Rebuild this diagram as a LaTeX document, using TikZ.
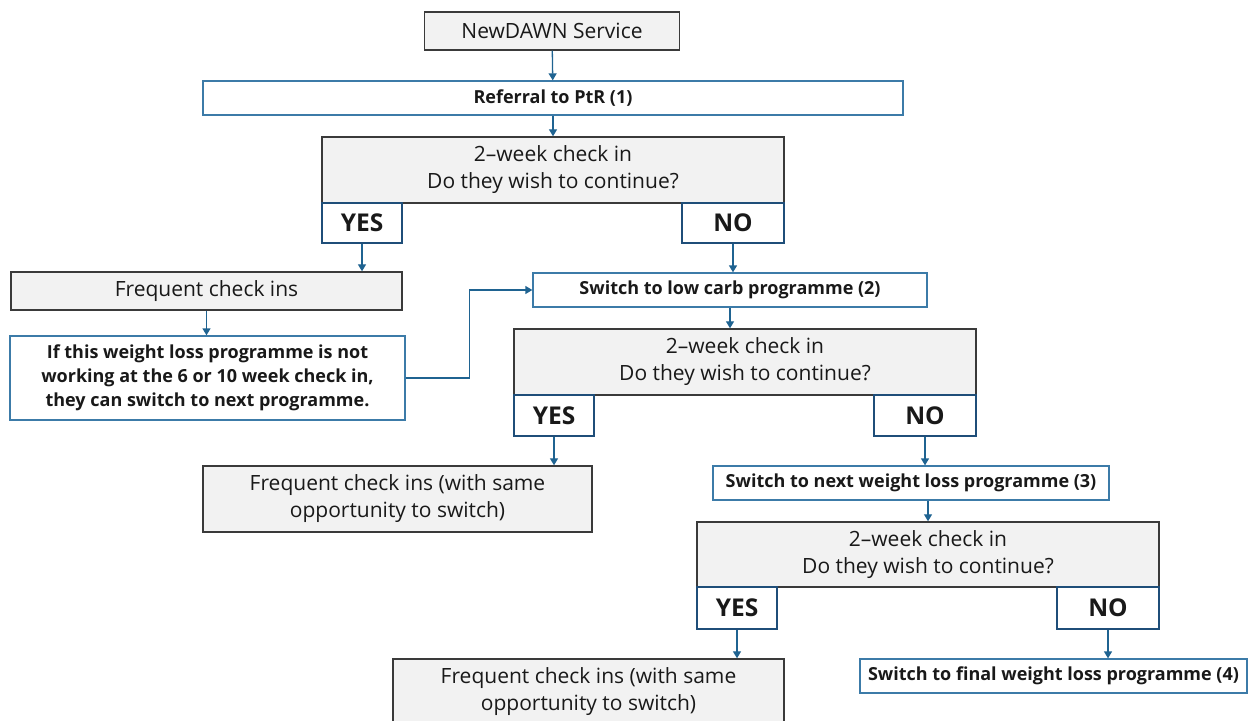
\documentclass[tikz,border=0pt]{standalone}
\usepackage{fontspec}
\setmainfont{Open Sans}
\usetikzlibrary{arrows.meta, positioning}
\definecolor{graufuell}{HTML}{F2F2F2}
\definecolor{graurand}{HTML}{3A3A3A}
\definecolor{blaurand}{HTML}{3C7BA8}
\definecolor{dunkelblau}{HTML}{1F4E79}
\definecolor{pfeil}{HTML}{1F6391}

\begin{document}
\begin{tikzpicture}[
        x=1pt, y=-1pt,
        every node/.style={inner sep=0pt, align=center, text=black!90},
        graubox/.style={draw=graurand, fill=graufuell, line width=1.4pt,
          font=\fontsize{21}{27}\selectfont},
        blaubox/.style={draw=blaurand, fill=white, line width=1.3pt,
          font=\fontsize{18}{24}\selectfont\bfseries},
        antwort/.style={draw=dunkelblau, fill=white, line width=1.6pt,
          minimum width=80pt, minimum height=40pt,
          font=\fontsize{24.5}{28}\selectfont\bfseries},
        nein/.style={antwort, minimum width=102pt},
        verb/.style={draw=pfeil, line width=1.3pt,
          -{Triangle[length=7pt, width=8pt]}},
      ]
      \useasboundingbox (0,0) rectangle (1257,720);
      \clip (0,0) rectangle (1257,720);

      % Start
      \node[graubox, minimum width=255pt, minimum height=38pt] (dienst) at (552,31) {NewDAWN Service};
      \node[blaubox, minimum width=700pt, minimum height=34pt] (ueberw) at (553,98) {Referral to PtR (1)};

      % erste Abfrage
      \node[graubox, minimum width=462pt, minimum height=66pt] (check1) at (553,170)
        {2--week check in\\Do they wish to continue?};
      \node[antwort] (ja1) at (362,223) {YES};
      \node[nein] (nein1) at (733,223) {NO};
      \node[graubox, minimum width=391pt, minimum height=38pt] (freq1) at (206.5,291) {Frequent check ins};
      \node[blaubox, minimum width=395pt, minimum height=84pt] (hinweis) at (207.5,378)
        {If this weight loss programme is not\\working at the 6 or 10 week check in,\\they can switch to next programme.};
      \node[blaubox, minimum width=394pt, minimum height=34pt] (lowcarb) at (730,290) {Switch to low carb programme (2)};

      % zweite Abfrage
      \node[graubox, minimum width=462pt, minimum height=66pt] (check2) at (745,362)
        {2--week check in\\Do they wish to continue?};
      \node[antwort, minimum height=41pt] (ja2) at (554,415.5) {YES};
      \node[nein, minimum height=41pt] (nein2) at (925,415.5) {NO};
      \node[graubox, minimum width=389pt, minimum height=66pt] (freq2) at (397.5,499)
        {Frequent check ins (with same\\opportunity to switch)};
      \node[blaubox, minimum width=396pt, minimum height=34pt] (naechst) at (911,483)
        {Switch to next weight loss programme (3)};

      % dritte Abfrage
      \node[graubox, minimum width=462pt, minimum height=65pt] (check3) at (928,554.5)
        {2--week check in\\Do they wish to continue?};
      \node[antwort, minimum height=42pt] (ja3) at (737,608) {YES};
      \node[nein, minimum height=42pt] (nein3) at (1108,608) {NO};
      \node[graubox, minimum width=391pt, minimum height=66pt] (freq3) at (588.5,692)
        {Frequent check ins (with same\\opportunity to switch)};
      \node[blaubox, minimum width=387pt, minimum height=34pt] (final) at (1053.5,676)
        {Switch to final weight loss programme (4)};

      % Verbindungen
      \draw[verb] (dienst) -- (ueberw);
      \draw[verb] (ueberw) -- (check1);
      \draw[verb] (ja1.south) -- (ja1.south |- freq1.north);
      \draw[verb] (nein1.south) -- (nein1.south |- lowcarb.north);
      \draw[verb] (freq1.south) -- (freq1.south |- hinweis.north);
      \draw[verb] (hinweis.east) -- ++(64,0) |- (lowcarb.west);
      \draw[verb] (lowcarb.south) -- (lowcarb.south |- check2.north);
      \draw[verb] (ja2.south) -- (ja2.south |- freq2.north);
      \draw[verb] (nein2.south) -- (nein2.south |- naechst.north);
      \draw[verb] (check3.north |- naechst.south) -- (check3.north);
      \draw[verb] (ja3.south) -- (ja3.south |- freq3.north);
      \draw[verb] (nein3.south) -- (nein3.south |- final.north);
    \end{tikzpicture}
\end{document}
